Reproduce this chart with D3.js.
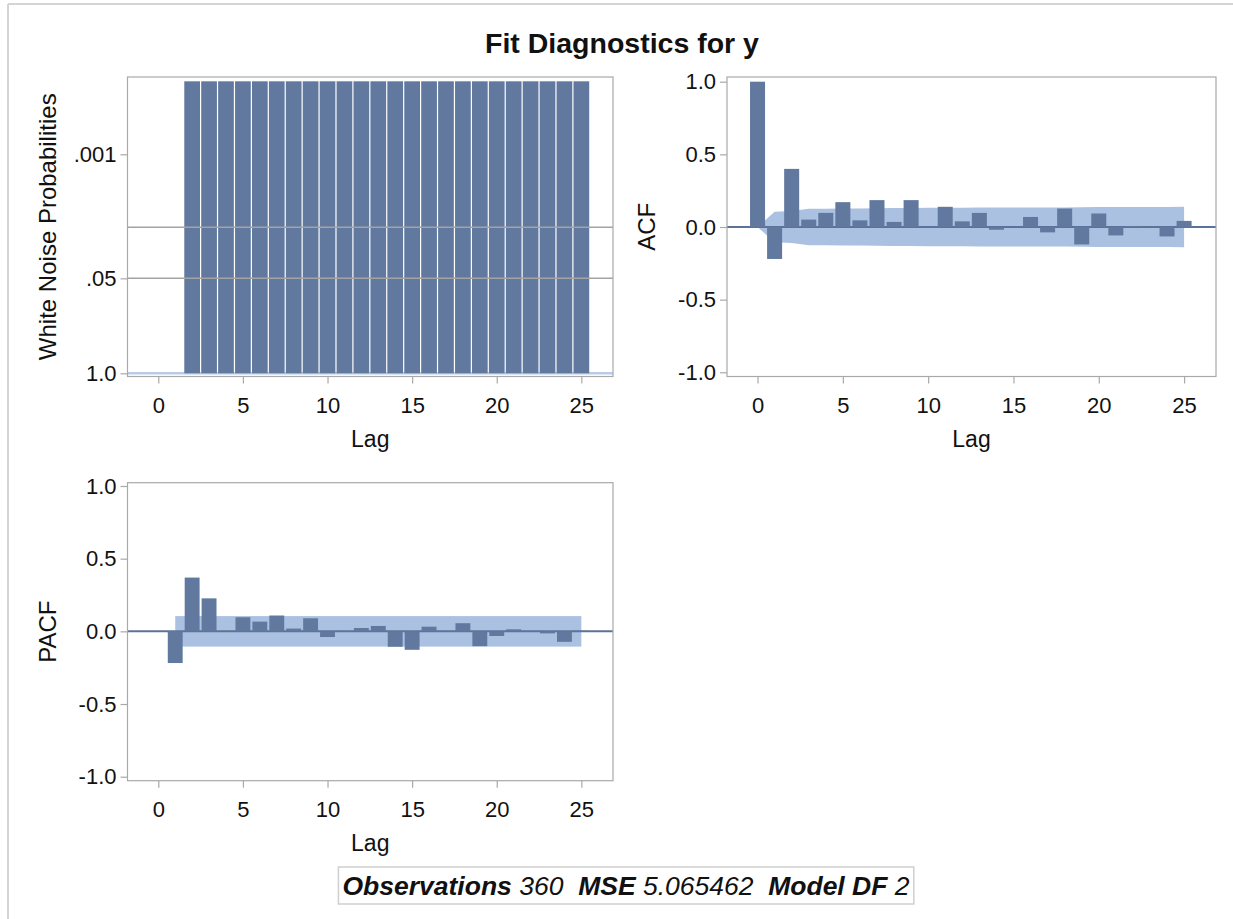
<!DOCTYPE html>
<html>
<head>
<meta charset="utf-8">
<script src="https://cdn.jsdelivr.net/npm/d3@7"></script>
<style>
  html, body { margin: 0; padding: 0; background: #fff; }
  svg { display: block; font-family: "Liberation Sans", Arial, sans-serif; }
</style>
</head>
<body>
<svg id="chart" width="1233" height="919"></svg>
<script>
// ---------------- data ----------------
const chartTitle = "Fit Diagnostics for y";
const xTicks = [0, 5, 10, 15, 20, 25];

// White noise probabilities (lags 0 and 1 missing)
const wnLags = [2, 3, 4, 5, 6, 7, 8, 9, 10, 11, 12, 13, 14, 15, 16, 17, 18, 19, 20, 21, 22, 23, 24, 25];
const wnProb = [0.0001, 0.0001, 0.0001, 0.0001, 0.0001, 0.0001, 0.0001, 0.0001, 0.0001, 0.0001, 0.0001, 0.0001,
                0.0001, 0.0001, 0.0001, 0.0001, 0.0001, 0.0001, 0.0001, 0.0001, 0.0001, 0.0001, 0.0001, 0.0001];
const wnTicks = [1.0, 0.05, 0.001];
const wnTickLabels = ["1.0", ".05", ".001"];
const wnRefLines = [0.05, 0.01];

// ACF
const acfLags = [0, 1, 2, 3, 4, 5, 6, 7, 8, 9, 10, 11, 12, 13, 14, 15, 16, 17, 18, 19, 20, 21, 22, 23, 24, 25];
const acfValues = [1.0, -0.22, 0.40, 0.051, 0.097, 0.171, 0.046, 0.185, 0.035, 0.185, 0.003, 0.139, 0.039,
                   0.097, -0.019, -0.002, 0.069, -0.037, 0.127, -0.12, 0.093, -0.058, 0.007, 0.002, -0.065, 0.042];
const acfBand = [0, 0.105, 0.110, 0.125, 0.126, 0.127, 0.128, 0.129, 0.130, 0.131, 0.132, 0.132, 0.133,
                 0.134, 0.134, 0.134, 0.134, 0.135, 0.135, 0.136, 0.137, 0.137, 0.138, 0.138, 0.138, 0.139];

// PACF
const pacfLags = [1, 2, 3, 4, 5, 6, 7, 8, 9, 10, 11, 12, 13, 14, 15, 16, 17, 18, 19, 20, 21, 22, 23, 24, 25];
const pacfValues = [-0.218, 0.370, 0.227, 0.002, 0.097, 0.067, 0.109, 0.019, 0.090, -0.039, -0.003, 0.023, 0.037,
                    -0.106, -0.127, 0.032, 0.003, 0.056, -0.102, -0.032, 0.014, 0.003, -0.014, -0.072, 0.004];
const pacfBandLags = [1, 25];
const pacfBandLimit = [0.105, 0.105];

const corrTicks = [-1.0, -0.5, 0.0, 0.5, 1.0];
const corrTickLabels = ["-1.0", "-0.5", "0.0", "0.5", "1.0"];

const footerParts = [
  {t: "Observations", b: true}, {t: " 360  ", b: false},
  {t: "MSE", b: true}, {t: " 5.065462  ", b: false},
  {t: "Model DF", b: true}, {t: " 2", b: false}
];

// ---------------- style ----------------
const barColor = "#62799f";
const bandColor = "#aac1e2";
const zeroColor = "#5b7398";
const frameColor = "#a9a9a9";
const textColor = "#111";
const tickFont = 22, labelFont = 24, lagFont = 23;

const svg = d3.select("#chart");

// outer border
svg.append("line").attr("x1", 8).attr("y1", 4).attr("x2", 1233).attr("y2", 4)
  .attr("stroke", "#d4d4d4").attr("stroke-width", 2);
svg.append("line").attr("x1", 8).attr("y1", 4).attr("x2", 8).attr("y2", 919)
  .attr("stroke", "#d4d4d4").attr("stroke-width", 2);

// title
svg.append("text").attr("x", 622).attr("y", 53).attr("text-anchor", "middle")
  .attr("font-size", 28.5).attr("font-weight", "bold").attr("fill", textColor).text(chartTitle);

function panel(box, xDomain, yScale, yTickVals, yTickFmt, yLabel) {
  const g = svg.append("g");
  const x = d3.scaleLinear().domain(xDomain).range([box.x0, box.x1]);
  const xa = g.append("g").attr("transform", `translate(0,${box.y1})`)
    .call(d3.axisBottom(x).tickValues(xTicks).tickSize(7).tickPadding(14).tickFormat(d3.format("d")));
  xa.select(".domain").remove();
  xa.selectAll("line").attr("stroke", frameColor).attr("stroke-width", 1.2);
  xa.selectAll("text").attr("font-size", tickFont).attr("fill", textColor)
    .attr("font-family", "Liberation Sans, Arial, sans-serif");
  const ya = g.append("g").attr("transform", `translate(${box.x0},0)`)
    .call(d3.axisLeft(yScale).tickValues(yTickVals).tickSize(7).tickPadding(4).tickFormat(yTickFmt));
  ya.select(".domain").remove();
  ya.selectAll("line").attr("stroke", frameColor).attr("stroke-width", 1.2);
  ya.selectAll("text").attr("font-size", tickFont).attr("fill", textColor)
    .attr("font-family", "Liberation Sans, Arial, sans-serif");
  g.append("text").attr("x", (box.x0 + box.x1) / 2).attr("y", box.y1 + 70)
    .attr("text-anchor", "middle").attr("font-size", lagFont).attr("fill", textColor).text("Lag");
  g.append("text")
    .attr("transform", `translate(${box.x0 - 72},${(box.y0 + box.y1) / 2}) rotate(-90)`)
    .attr("text-anchor", "middle").attr("font-size", labelFont).attr("fill", textColor).text(yLabel);
  const plot = g.append("g");
  return {g, plot, x};
}

function frame(g, box) {
  g.append("rect").attr("x", box.x0).attr("y", box.y0)
    .attr("width", box.x1 - box.x0).attr("height", box.y1 - box.y0)
    .attr("fill", "none").attr("stroke", frameColor).attr("stroke-width", 1.2);
}

// ---------- Panel 1 : White noise ----------
{
  const box = {x0: 127.5, x1: 613, y0: 77, y1: 376.5};
  const y = d3.scaleLog().domain([1.0, 0.001]).range([373.3, 154.3]);
  const p = panel(box, [-1.82, 26.87], y, wnTicks, (d, i) => wnTickLabels[i], "White Noise Probabilities");
  const x = p.x;
  const unit = x(1) - x(0);
  p.plot.append("line").attr("x1", box.x0).attr("x2", box.x1).attr("y1", y(1.0)).attr("y2", y(1.0))
    .attr("stroke", "#b9cbe6").attr("stroke-width", 2.5);
  p.plot.selectAll("rect.wn").data(wnLags).enter().append("rect")
    .attr("x", (d) => x(d - 0.5) + 0.6)
    .attr("width", unit - 1.2)
    .attr("y", (d, i) => y(wnProb[i]))
    .attr("height", (d, i) => y(1.0) - y(wnProb[i]))
    .attr("fill", barColor);
  p.plot.selectAll("line.ref").data(wnRefLines).enter().append("line")
    .attr("x1", box.x0).attr("x2", box.x1)
    .attr("y1", (d) => y(d)).attr("y2", (d) => y(d))
    .attr("stroke", "#a3a3a3").attr("stroke-width", 1.6);
  frame(p.g, box);
}

// ---------- Panel 2 : ACF ----------
{
  const box = {x0: 727, x1: 1216, y0: 77, y1: 376.5};
  const y = d3.scaleLinear().domain([-1, 1]).range([372.3, 81.7]);
  const p = panel(box, [-1.79, 26.87], y, corrTicks, (d, i) => corrTickLabels[i], "ACF");
  const x = p.x;
  const band = d3.area().x((d) => x(d)).y0((d, i) => y(-acfBand[i])).y1((d, i) => y(acfBand[i]));
  p.plot.append("path").datum(acfLags).attr("d", band).attr("fill", bandColor);
  p.plot.append("line").attr("x1", box.x0).attr("x2", box.x1).attr("y1", y(0)).attr("y2", y(0))
    .attr("stroke", zeroColor).attr("stroke-width", 2);
  const bw = 0.88;
  p.plot.selectAll("rect.acf").data(acfLags).enter().append("rect")
    .attr("x", (d) => x(d - bw / 2)).attr("width", x(bw) - x(0))
    .attr("y", (d, i) => y(Math.max(0, acfValues[i])))
    .attr("height", (d, i) => Math.abs(y(acfValues[i]) - y(0)))
    .attr("fill", barColor);
  frame(p.g, box);
}

// ---------- Panel 3 : PACF ----------
{
  const box = {x0: 127.5, x1: 613, y0: 482.7, y1: 780.7};
  const y = d3.scaleLinear().domain([-1, 1]).range([776.7, 486]);
  const p = panel(box, [-1.82, 26.87], y, corrTicks, (d, i) => corrTickLabels[i], "PACF");
  const x = p.x;
  p.plot.append("rect")
    .attr("x", x(pacfBandLags[0])).attr("width", x(pacfBandLags[1]) - x(pacfBandLags[0]))
    .attr("y", y(pacfBandLimit[0])).attr("height", y(-pacfBandLimit[1]) - y(pacfBandLimit[0]))
    .attr("fill", bandColor);
  p.plot.append("line").attr("x1", box.x0).attr("x2", box.x1).attr("y1", y(0)).attr("y2", y(0))
    .attr("stroke", zeroColor).attr("stroke-width", 2);
  const bw = 0.88;
  p.plot.selectAll("rect.pacf").data(pacfLags).enter().append("rect")
    .attr("x", (d) => x(d - bw / 2)).attr("width", x(bw) - x(0))
    .attr("y", (d, i) => y(Math.max(0, pacfValues[i])))
    .attr("height", (d, i) => Math.abs(y(pacfValues[i]) - y(0)))
    .attr("fill", barColor);
  frame(p.g, box);
}

// ---------- footer ----------
{
  const fg = svg.append("g");
  const txt = fg.append("text").attr("x", 626).attr("y", 895).attr("text-anchor", "middle")
    .attr("font-size", 26.5).attr("font-style", "italic").attr("fill", textColor)
    .attr("xml:space", "preserve").style("white-space", "pre");
  footerParts.forEach((p) => {
    txt.append("tspan").attr("font-weight", p.b ? "bold" : "normal").text(p.t);
  });
  const bb = txt.node().getBBox();
  fg.insert("rect", "text").attr("x", bb.x - 4).attr("y", 867).attr("width", bb.width + 8).attr("height", 37)
    .attr("fill", "#fff").attr("stroke", "#cfcfcf").attr("stroke-width", 1.5);
}
</script>
</body>
</html>
